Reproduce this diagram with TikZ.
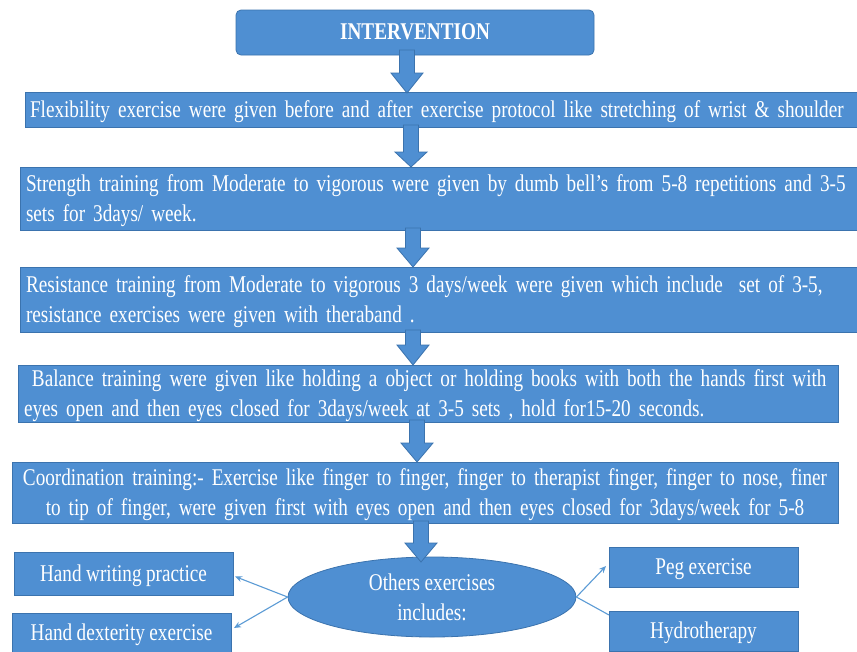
\documentclass[tikz,border=0pt]{standalone}
\usepackage{fontspec}
\setmainfont[FakeStretch=0.8]{Liberation Serif}
\usetikzlibrary{shapes.geometric,arrows.meta}
\definecolor{boxblue}{HTML}{4F8FD2}
\definecolor{boxline}{HTML}{3B73AE}
\definecolor{linkblue}{HTML}{5B9BD5}
\newcommand{\blockarr}[4]{%
  \filldraw[fill=boxblue, draw=boxline, line width=0.8pt, line join=miter]
    (#1-7.5,#2) -- (#1+7.5,#2) -- (#1+7.5,#3) -- (#1+16,#3) -- (#1,#4)
    -- (#1-16,#3) -- (#1-7.5,#3) -- cycle;}
\newcommand{\txtfont}{\fontsize{24}{30}\selectfont\setlength{\spaceskip}{4.5pt plus 1pt minus 1pt}}
\newcommand{\ellfont}{\fontsize{24}{30}\selectfont\setlength{\spaceskip}{4.5pt plus 1pt minus 1pt}}
\tikzset{
  box/.style={draw=boxline, fill=boxblue, line width=0.8pt, text=white,
    inner xsep=6pt, inner ysep=0pt, outer sep=0pt, anchor=north west,
    font=\txtfont},
  onebox/.style={box, text depth=1pt},
  twobox/.style={box, text height=17.5pt, text depth=31pt},
  smallbox/.style={onebox, align=center},
  link/.style={draw=linkblue, line width=1.1pt},
  linkarrow/.style={link, -{Stealth[length=7pt,width=6pt]}}
}
\begin{document}
\begin{tikzpicture}[x=1pt,y=-1pt]
\clip (0,0) rectangle (857,651);
\fill[white] (0,0) rectangle (857,651);

\node[onebox, rounded corners=5pt, minimum width=358pt, minimum height=45pt,
  font=\txtfont\bfseries] (intv) at (236,10) {INTERVENTION};

\node[onebox, inner xsep=5pt, text width=822pt, minimum height=35pt, align=left] (flex) at (25,92)
  {\mbox{Flexibility exercise were given before and after exercise protocol like stretching of wrist \& shoulder}};

\node[twobox, text width=825pt, minimum height=63pt, align=left] (str) at (20,167)
  {\mbox{Strength training from Moderate to vigorous were given by dumb bell’s from 5-8 repetitions and 3-5}\\
   \mbox{sets for 3days/ week.}};

\node[twobox, text width=825pt, minimum height=65pt, align=left] (res) at (20,267)
  {\mbox{Resistance training from Moderate to vigorous 3 days/week were given which include \ set of 3-5,}\\
   \mbox{resistance exercises were given with theraband .}};

\node[twobox, text width=808pt, minimum height=57pt, align=left] (bal) at (18,365)
  {\mbox{\ Balance training were given like holding a object or holding books with both the hands first with}\\
   \mbox{eyes open and then eyes closed for 3days/week at 3-5 sets , hold for15-20 seconds.}};

\node[twobox, text width=814pt, minimum height=61pt, align=center] (coord) at (12,462)
  {\mbox{Coordination training:- Exercise like finger to finger, finger to therapist finger, finger to nose, finer}\\
   \mbox{to tip of finger, were given first with eyes open and then eyes closed for 3days/week for 5-8}};

\node[ellipse, draw=boxline, fill=boxblue, line width=0.8pt, text=white, inner sep=0pt,
  minimum width=288pt, minimum height=80pt, align=center,
  font=\ellfont] (oth) at (432,597) {Others exercises\\includes:};

\node[smallbox, minimum width=219pt, minimum height=43pt] (hw) at (14,552) {Hand writing practice};
\node[smallbox, minimum width=219pt, minimum height=40pt] (hd) at (12,613) {Hand dexterity exercise};
\node[smallbox, minimum width=189pt, minimum height=40pt] (peg) at (609,547) {Peg exercise};
\node[smallbox, minimum width=189pt, minimum height=40pt] (hyd) at (609,611) {Hydrotherapy};

\blockarr{407}{50}{73}{93}
\blockarr{411}{125}{152}{167}
\blockarr{413}{228}{248}{267}
\blockarr{413}{330}{345}{365}
\blockarr{417}{420}{443}{462}
\blockarr{421}{521}{543}{562}

\draw[linkarrow] (oth.west) -- ([xshift=2pt,yshift=-3pt]hw.east);
\draw[linkarrow] (oth.west) -- ([xshift=3pt,yshift=5pt]hd.east);
\draw[linkarrow] (oth.east) -- ([xshift=-3pt,yshift=1pt]peg.west);
\draw[link] (oth.east) -- ([yshift=-4pt]hyd.north west);
\end{tikzpicture}
\end{document}
